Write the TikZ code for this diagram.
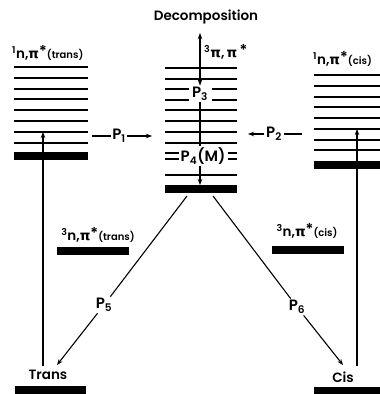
\documentclass[tikz,border=0pt]{standalone}
\usepackage{fontspec}
\setmainfont{Poppins}[BoldFont={Poppins SemiBold}]
\newfontfamily\grk{DejaVu Sans}[BoldFont={DejaVu Sans Bold}]
\usetikzlibrary{arrows.meta}

\newcommand{\gpi}{{\grk\bfseries π}}
\newcommand{\upr}[1]{\textsuperscript{#1}}
\newcommand{\exstar}{\raisebox{0.35ex}{\fontsize{15}{15}\selectfont*}}
\newcommand{\smallpar}[1]{{\fontsize{10}{10}\selectfont(#1)}}

\begin{document}
\begin{tikzpicture}[x=1pt,y=-1pt,
  level/.style={line width=2.3pt},
  bar/.style={line width=8pt},
  conn/.style={line width=1.1pt},
  tip/.style={-{Stealth[length=6pt,width=4.5pt]}},
  lab/.style={inner sep=1.5pt, font=\fontsize{13.5}{13.5}\selectfont\bfseries},
  plab/.style={inner sep=1.5pt, font=\fontsize{15}{15}\selectfont\bfseries},
  slab/.style={inner sep=1pt, font=\fontsize{13.5}{13.5}\selectfont\bfseries}]
\useasboundingbox (0,0) rectangle (380,394);
\clip (0,0) rectangle (380,394);

% singlet n,pi* manifold of the trans isomer
\foreach \y in {67,78,89,99,110,121,132,143}
  \draw[level] (14,\y) -- (88,\y);
\draw[bar] (14,156) -- (88,156);
\node[slab, anchor=south west] (strans) at (11,62)
  {\upr{1}n,\gpi\exstar\smallpar{trans}};

% singlet n,pi* manifold of the cis isomer
\foreach \y in {75,86,97,107,118,129,140,150}
  \draw[level] (314,\y) -- (385,\y);
\draw[bar] (314,165) -- (385,165);
\node[slab, anchor=south west] (scis) at (312,68)
  {\upr{1}n,\gpi\exstar\smallpar{cis}};

% triplet pi,pi* manifold
\node[slab, anchor=south west] (tpp) at (203,61) {\upr{3}\gpi,\,\gpi\,\exstar};
\node[plab] (p3) at (200,94) {P\textsubscript{3}};
\node[plab] (p4) at (203,156) {P\textsubscript{4}(M)};
\foreach \y in {68,79,110,121,132,143,175}
  \draw[level] (165,\y) -- (237,\y);
\foreach \y in {89,100}{
  \draw[level] (165,\y) -- (189,\y);
  \draw[level] (212,\y) -- (237,\y);}
\foreach \y in {153,159}{
  \draw[level] (165,\y) -- (179,\y);
  \draw[level] (228,\y) -- (237,\y);}
\draw[bar] (165,189) -- (237,189);

% triplet n,pi* levels
\node[slab, anchor=south] (ttrans) at (98,244)
  {\upr{3}n,\gpi\exstar\smallpar{trans}};
\draw[bar] (57,250.5) -- (129,250.5);
\node[slab, anchor=south] (tcis) at (307,240)
  {\upr{3}n,\gpi\exstar\smallpar{cis}};
\draw[bar] (272,250) -- (344,250);

% ground states
\node[lab] (trans) at (48,375) {Trans};
\draw[bar] (15,390) -- (86,390);
\node[lab] (cis) at (343,377) {Cis};
\draw[bar] (314,390.5) -- (385,390.5);

% key points of the connectors
\coordinate (dtip) at (200,33);
\coordinate (cbot) at (200,185);
\coordinate (cL) at (187,196);
\coordinate (cR) at (213,196);
\coordinate (tL) at (57,365);
\coordinate (tR) at (343,365);
\coordinate (lup) at (43,132);
\coordinate (lfoot) at (43,366);
\coordinate (rup) at (357,129);
\coordinate (rfoot) at (357,366);
\coordinate (l1) at (92,136);
\coordinate (c1) at (152,136);
\coordinate (r2) at (302,134);
\coordinate (c2) at (248,134);

\node[lab] (dec) at (206,17) {Decomposition};

% decay and transfer paths
\draw[conn, {Stealth[length=6pt,width=4.5pt]}-{Stealth[length=6pt,width=4.5pt]}] (p3) -- (dtip);
\draw[conn] (p3) -- (p3 |- p4.north);
\draw[conn, tip] (p3 |- p4.south) -- (cbot);

\node[plab] (p1) at (119,136) {P\textsubscript{1}};
\draw[conn] (l1) -- (p1);
\draw[conn, tip] (p1) -- (c1);
\node[plab] (p2) at (274,134) {P\textsubscript{2}};
\draw[conn] (r2) -- (p2);
\draw[conn, tip] (p2) -- (c2);

\node[plab] (p5) at (104,305) {P\textsubscript{5}};
\draw[conn] (cL) -- (p5);
\draw[conn, tip] (p5) -- (tL);
\node[plab] (p6) at (297,307) {P\textsubscript{6}};
\draw[conn] (cR) -- (p6);
\draw[conn, tip] (p6) -- (tR);

% excitation of the two isomers
\draw[conn, tip] (lfoot) -- (lup);
\draw[conn, tip] (rfoot) -- (rup);
\end{tikzpicture}
\end{document}
